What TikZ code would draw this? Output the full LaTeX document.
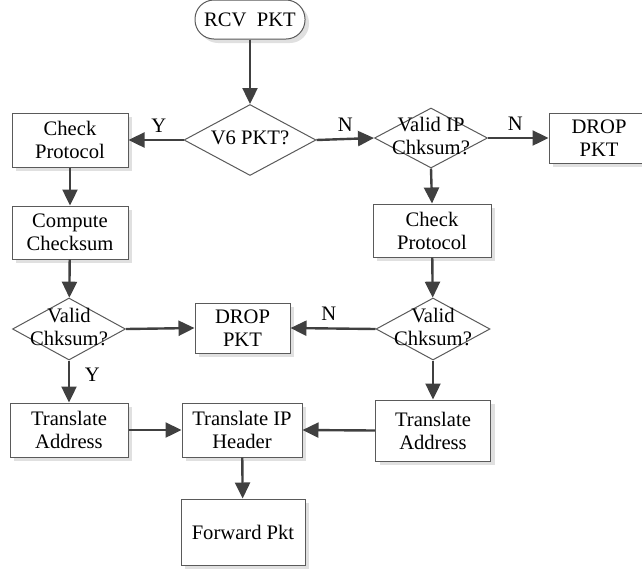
\documentclass[tikz,border=0pt]{standalone}
\usepackage{fontspec}
\setmainfont{Liberation Serif}
\usetikzlibrary{arrows.meta, positioning, shadows, shapes.geometric}
\definecolor{flowline}{HTML}{404040}
\definecolor{flowedge}{HTML}{5A5A5A}
\tikzset{
    procbox/.style={rectangle, draw=flowedge, line width=0.5pt, fill=white, align=center, inner sep=0pt,
        font=\fontsize{10.3}{11.5}\selectfont,
        drop shadow={shadow xshift=2pt, shadow yshift=-2pt, fill=black!12, opacity=1}},
    decision/.style={diamond, draw=flowedge, line width=0.5pt, fill=white, inner sep=0pt, shape aspect=1.8},
    flow/.style={-{Triangle[length=8pt, width=7.5pt]}, draw=flowline, fill=flowline, line width=1.2pt},
    branch/.style={font=\fontsize{10.3}{12}\selectfont},
}
\newcommand{\dtext}[1]{\fontsize{10.3}{11.5}\selectfont\begin{tabular}{@{}c@{}}#1\end{tabular}}
\begin{document}
\begin{tikzpicture}[x=0.5pt, y=-0.5pt]
    \useasboundingbox (0,0) rectangle (642,569);
    % Start of flow
    \node[procbox, rounded corners=9.5pt, minimum width=55pt, minimum height=19.5pt] (rcv) at (250,19.5) {RCV\ \ PKT};
    \node[decision, minimum width=66pt, minimum height=35.5pt, label={center:\dtext{V6 PKT?}}] (v6) at (250,140) {};
    % Left column (V6 packet)
    \node[procbox, minimum width=58pt, minimum height=27pt] (chkprotL) at (70,140) {Check\\Protocol};
    \node[procbox, minimum width=58pt, minimum height=26.5pt] (compsum) at (70,232.5) {Compute\\Checksum};
    \node[decision, minimum width=56.5pt, minimum height=31pt, label={center:\dtext{Valid\\Chksum?}}] (validL) at (69,329) {};
    \node[procbox, minimum width=59pt, minimum height=27pt] (transL) at (69,430) {Translate\\Address};
    % Right column (V4 packet)
    \node[decision, minimum width=56.5pt, minimum height=30pt, label={center:\dtext{Valid IP\\Chksum?}}] (validip) at (431,138) {};
    \node[procbox, minimum width=50pt, minimum height=25pt] (dropR) at (599,138) {DROP\\PKT};
    \node[procbox, minimum width=59pt, minimum height=26.5pt] (chkprotR) at (432,230.5) {Check\\Protocol};
    \node[decision, minimum width=57pt, minimum height=31pt, label={center:\dtext{Valid\\Chksum?}}] (validR) at (433,329) {};
    \node[procbox, minimum width=57.5pt, minimum height=30.5pt] (transR) at (433,430.5) {Translate\\Address};
    % Middle column
    \node[procbox, minimum width=47.5pt, minimum height=25pt] (dropM) at (242.5,328) {DROP\\PKT};
    \node[procbox, minimum width=60pt, minimum height=27pt] (transip) at (242,430) {Translate IP\\Header};
    \node[procbox, minimum width=62pt, minimum height=33pt] (fwd) at (243,532) {Forward Pkt};
    % Connectors
    \draw[flow] (rcv) -- (v6);
    \draw[flow] (v6.west) -- node[branch, above, pos=0.45] {Y} (chkprotL.east);
    \draw[flow] (v6.east) -- node[branch, above] {N} (validip.west);
    \draw[flow] (validip.east) -- node[branch, above, pos=0.45] {N} (dropR.west);
    \draw[flow] (chkprotL) -- (compsum);
    \draw[flow] (compsum) -- (validL);
    \draw[flow] (validL.south) -- node[branch, right, xshift=4pt, pos=0.35] {Y} (transL.north);
    \draw[flow] (validL.east) -- (dropM.west);
    \draw[flow] (validip.south) -- (chkprotR.north);
    \draw[flow] (chkprotR) -- (validR);
    \draw[flow] (validR.west) -- node[branch, above, pos=0.55] {N} (dropM.east);
    \draw[flow] (validR.south) -- (transR.north);
    \draw[flow] (transL.east) -- (transip.west);
    \draw[flow] (transR.west) -- (transip.east);
    \draw[flow] (transip) -- (fwd);
\end{tikzpicture}
\end{document}
